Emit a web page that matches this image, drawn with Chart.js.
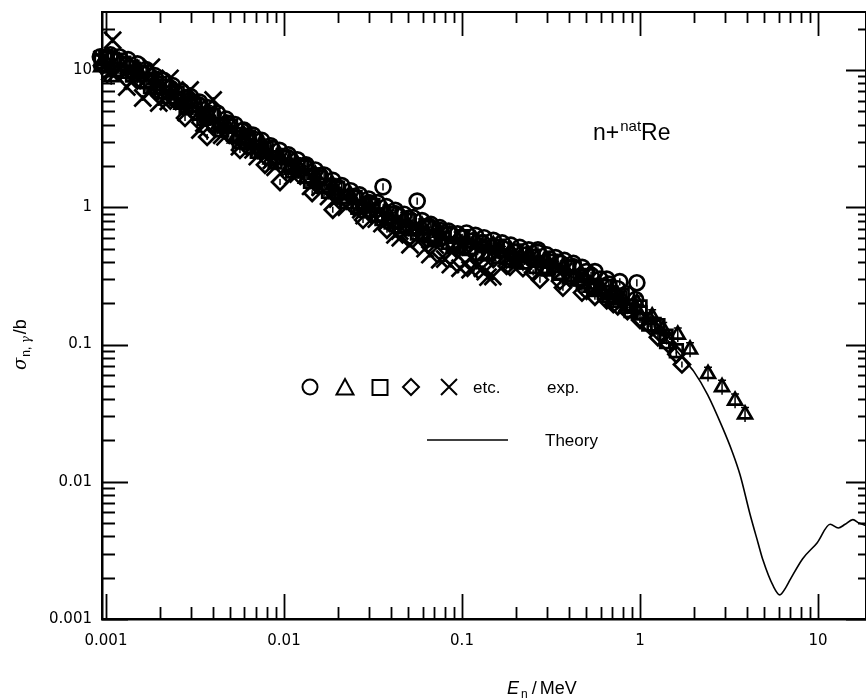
<!DOCTYPE html>
<html>
<head>
<meta charset="utf-8">
<script src="https://cdn.jsdelivr.net/npm/chart.js@4.4.0/dist/chart.umd.min.js"></script>
<style>
  html, body { margin: 0; padding: 0; background: #fff; }
</style>
</head>
<body>
<canvas id="chart" width="866" height="698"></canvas>
<script>
// -----------------------------
// Data (E in MeV, sigma in b)
// -----------------------------
const circleE = [0.00093, 0.00098, 0.0011, 0.0013, 0.0016, 0.0019, 0.0023, 0.0028, 0.0033, 0.004, 0.0048, 0.0058, 0.007, 0.0085, 0.0105, 0.013, 0.016, 0.02, 0.025, 0.03, 0.036, 0.042, 0.05, 0.056, 0.065, 0.075, 0.085, 0.1, 0.115, 0.13, 0.15, 0.17, 0.2, 0.23, 0.267, 0.31, 0.36, 0.42, 0.5, 0.558, 0.65, 0.77, 0.96,
    0.00106, 0.00119, 0.00133, 0.0015, 0.00168, 0.00188, 0.00211, 0.00237, 0.00266, 0.00299, 0.00335, 0.00376, 0.00422, 0.00473, 0.00531, 0.00596, 0.00668, 0.0075, 0.00841, 0.00944,
    0.0106, 0.0119, 0.0133, 0.015, 0.0168, 0.0188, 0.0211, 0.0237, 0.0266, 0.0299, 0.0335, 0.0376, 0.0422, 0.0473, 0.0531, 0.0596, 0.0668, 0.075, 0.0841, 0.0944,
    0.106, 0.119, 0.133, 0.15, 0.168, 0.188, 0.211, 0.237, 0.266, 0.299, 0.335, 0.376, 0.422, 0.473, 0.531, 0.596, 0.668, 0.75, 0.841, 0.944];
const circleS = [12.5, 11.0, 12.0, 10.8, 9.4, 8.6, 7.4, 6.3, 5.6, 4.7, 4.1, 3.6, 3.1, 2.7, 2.3, 2.0, 1.7, 1.4, 1.2, 1.08, 1.41, 0.9, 0.83, 1.11, 0.73, 0.68, 0.64, 0.6, 0.57, 0.55, 0.52, 0.5, 0.47, 0.45, 0.49, 0.42, 0.39, 0.37, 0.34, 0.34, 0.3, 0.287, 0.282,
    12.9, 12.5, 11.9, 11.1, 10.1, 9.1, 8.4, 7.7, 7.0, 6.4, 5.85, 5.3, 4.86, 4.39, 4.0, 3.65, 3.36, 3.07, 2.81, 2.6,
    2.41, 2.22, 2.04, 1.87, 1.72, 1.57, 1.44, 1.32, 1.23, 1.15, 1.08, 1.01, 0.95, 0.89, 0.84, 0.8, 0.75, 0.71, 0.67, 0.64,
    0.65, 0.625, 0.6, 0.575, 0.55, 0.53, 0.51, 0.49, 0.47, 0.45, 0.43, 0.41, 0.39, 0.365, 0.32, 0.3, 0.276, 0.255, 0.234, 0.213];

const triangleE = [0.00094, 0.00107, 0.0015, 0.002, 0.0027, 0.0035, 0.0045, 0.006, 0.008, 0.011, 0.015, 0.02, 0.028, 0.04, 0.055, 0.075, 0.1, 0.14, 0.2, 0.3, 0.45, 0.6, 0.7, 0.802, 0.962, 1.14, 1.17, 1.35, 1.63, 1.91, 2.41, 2.89, 3.42, 3.89,
    0.00106, 0.00119, 0.00133, 0.0015, 0.00168, 0.00188, 0.00211, 0.00237, 0.00266, 0.00299, 0.00335, 0.00376, 0.00422, 0.00473, 0.00531, 0.00596, 0.00668, 0.0075, 0.00841, 0.00944,
    0.0106, 0.0119, 0.0133, 0.015, 0.0168, 0.0188, 0.0211, 0.0237, 0.0266, 0.0299, 0.0335, 0.0376, 0.0422, 0.0473, 0.0531, 0.0596, 0.0668, 0.075, 0.0841, 0.0944,
    0.106, 0.119, 0.133, 0.15, 0.168, 0.188, 0.211, 0.237, 0.266, 0.299, 0.335, 0.376, 0.422, 0.473, 0.531, 0.596, 0.668, 0.75, 0.841, 0.944];
const triangleS = [10.5, 8.9, 9.6, 7.2, 5.8, 4.7, 3.9, 3.1, 2.5, 2.0, 1.55, 1.25, 1.02, 0.82, 0.69, 0.58, 0.5, 0.44, 0.4, 0.35, 0.29, 0.25, 0.235, 0.212, 0.202, 0.152, 0.16, 0.129, 0.118, 0.092, 0.061, 0.049, 0.039, 0.031,
    10.3, 11.5, 9.4, 10.2, 8.0, 8.4, 6.65, 7.1, 5.6, 5.9, 4.65, 4.9, 3.86, 4.05, 3.18, 3.37, 2.67, 2.83, 2.23, 2.4,
    1.92, 2.05, 1.62, 1.73, 1.37, 1.45, 1.14, 1.22, 0.98, 1.06, 0.855, 0.93, 0.753, 0.82, 0.67, 0.734, 0.595, 0.653, 0.535, 0.59,
    0.546, 0.575, 0.504, 0.53, 0.462, 0.485, 0.428, 0.45, 0.395, 0.414, 0.361, 0.365, 0.309, 0.32, 0.26, 0.27, 0.22, 0.229, 0.19, 0.187];

const squareE = [0.00094, 0.001, 0.0012, 0.0014, 0.0017, 0.0021, 0.0025, 0.003, 0.0037, 0.0044, 0.0052, 0.0062, 0.0075, 0.009, 0.011, 0.0135, 0.017, 0.021, 0.026, 0.033, 0.04, 0.048, 0.06, 0.07, 0.09, 0.11, 0.13, 0.16, 0.19, 0.22, 0.26, 0.3, 0.35, 0.4, 0.48, 0.55, 0.63, 0.72, 0.85, 1.0, 1.2, 1.4, 1.6,
    0.001, 0.00112, 0.00126, 0.00141, 0.00158, 0.00178, 0.002, 0.00224, 0.00251, 0.00282, 0.00316, 0.00355, 0.00398, 0.00447, 0.00501, 0.00562, 0.00631, 0.00708, 0.00794, 0.00891,
    0.01, 0.0112, 0.0126, 0.0141, 0.0158, 0.0178, 0.02, 0.0224, 0.0251, 0.0282, 0.0316, 0.0355, 0.0398, 0.0447, 0.0501, 0.0562, 0.0631, 0.0708, 0.0794, 0.0891,
    0.1, 0.112, 0.126, 0.141, 0.158, 0.178, 0.2, 0.224, 0.251, 0.282, 0.316, 0.355, 0.398, 0.447, 0.501, 0.562, 0.631, 0.708, 0.794, 0.891, 1.0, 1.12, 1.26, 1.41];
const squareS = [11.5, 12.5, 11.8, 10.5, 8.2, 7.6, 6.2, 5.5, 4.5, 4.0, 3.4, 3.0, 2.6, 2.3, 1.95, 1.7, 1.45, 1.2, 1.0, 0.88, 0.78, 0.72, 0.64, 0.6, 0.54, 0.5, 0.46, 0.44, 0.41, 0.4, 0.37, 0.355, 0.33, 0.31, 0.285, 0.26, 0.24, 0.22, 0.19, 0.17, 0.14, 0.115, 0.09,
    12.1, 10.1, 11.2, 9.2, 9.7, 7.6, 8.0, 6.4, 6.8, 5.35, 5.6, 4.45, 4.7, 3.67, 3.9, 3.0, 3.25, 2.56, 2.7, 2.14,
    2.31, 1.84, 1.97, 1.55, 1.65, 1.31, 1.38, 1.1, 1.18, 0.95, 1.03, 0.83, 0.9, 0.73, 0.8, 0.65, 0.71, 0.58, 0.64, 0.52,
    0.61, 0.51, 0.56, 0.47, 0.52, 0.43, 0.48, 0.4, 0.44, 0.37, 0.405, 0.335, 0.366, 0.3, 0.317, 0.252, 0.265, 0.21, 0.227, 0.177, 0.188, 0.141, 0.137, 0.105];

const diamondE = [0.00095, 0.0012, 0.0015, 0.0019, 0.0023, 0.00278, 0.0037, 0.004, 0.00566, 0.006, 0.00782, 0.0095, 0.012, 0.0144, 0.0188, 0.02, 0.0278, 0.03, 0.0379, 0.05, 0.07, 0.0938, 0.12, 0.15, 0.186, 0.22, 0.274, 0.369, 0.472, 0.558, 0.65, 0.75, 0.85, 1.0, 1.15, 1.3, 1.45, 1.6, 1.72,
    0.178, 0.251, 0.355, 0.501, 0.708, 1.0, 1.26];
const diamondS = [10.8, 9.8, 8.4, 7.0, 6.0, 4.48, 3.26, 4.0, 2.62, 3.0, 2.04, 1.53, 1.9, 1.27, 0.96, 1.2, 0.81, 0.95, 0.686, 0.72, 0.6, 0.491, 0.46, 0.42, 0.369, 0.36, 0.297, 0.26, 0.239, 0.223, 0.21, 0.19, 0.175, 0.155, 0.135, 0.12, 0.1, 0.085, 0.0716,
    0.374, 0.335, 0.29, 0.246, 0.197, 0.151, 0.113];

const crossE = [0.00095, 0.00105, 0.00109, 0.00131, 0.0018, 0.00161, 0.00198, 0.00229, 0.00297, 0.00337, 0.004, 0.00466, 0.0067, 0.0085, 0.012, 0.016, 0.02, 0.027, 0.033, 0.042, 0.045, 0.051, 0.058, 0.062, 0.066, 0.075, 0.08, 0.086, 0.0975, 0.105, 0.111, 0.121, 0.13, 0.135, 0.14, 0.149,
    0.00112, 0.00141, 0.00178, 0.00224, 0.00282, 0.00355, 0.00447, 0.00562, 0.00708, 0.00891, 0.0112, 0.0141, 0.0178, 0.0224, 0.0282, 0.0355, 0.0447, 0.0562, 0.0708, 0.0891, 0.112];
const crossS = [12.0, 9.7, 16.5, 7.52, 10.5, 6.26, 5.75, 8.7, 7.16, 3.66, 6.05, 3.26, 2.62, 2.2, 1.75, 1.4, 1.15, 0.96, 0.82, 0.63, 0.6, 0.533, 0.58, 0.5, 0.452, 0.415, 0.42, 0.382, 0.36, 0.39, 0.351, 0.37, 0.36, 0.34, 0.31, 0.313,
    9.3, 8.4, 7.0, 5.9, 4.9, 4.1, 3.35, 2.76, 2.34, 1.96, 1.68, 1.42, 1.2, 1.0, 0.87, 0.76, 0.67, 0.6, 0.53, 0.48, 0.43];

// relative error bars per series
const circleErr = 0.06, triangleErr = 0.12, squareErr = 0.05, diamondErr = 0.05, crossErr = 0.05;

const theoryE = [0.00092, 0.0012, 0.0015, 0.002, 0.0027, 0.0035, 0.0045, 0.006, 0.008, 0.01, 0.014, 0.02, 0.027, 0.035, 0.045, 0.06, 0.075, 0.1, 0.13, 0.17, 0.22, 0.28, 0.36, 0.46, 0.57, 0.7, 0.85, 1.0, 1.15, 1.3, 1.5, 1.86, 2.0, 2.4, 2.9, 3.3, 3.65, 4.15, 4.6, 4.9, 5.6, 6.1, 6.6, 7.0, 8.2, 9.9, 11.7, 13.0, 14.2, 15.7, 17.0, 18.6];
const theoryS = [11.5, 10.6, 9.3, 7.4, 5.9, 4.85, 3.95, 3.15, 2.5, 2.14, 1.68, 1.28, 1.04, 0.89, 0.785, 0.67, 0.6, 0.533, 0.48, 0.435, 0.4, 0.37, 0.33, 0.297, 0.265, 0.227, 0.198, 0.174, 0.148, 0.124, 0.1, 0.0716, 0.064, 0.043, 0.025, 0.0165, 0.0112, 0.0058, 0.0036, 0.0027, 0.00174, 0.0015, 0.0017, 0.00195, 0.00275, 0.0036, 0.0049, 0.0046, 0.0049, 0.0053, 0.005, 0.0048];

const xTicks = [0.001, 0.01, 0.1, 1, 10];
const xTickLabels = ['0.001', '0.01', '0.1', '1', '10'];
const yTicks = [0.001, 0.01, 0.1, 1, 10];
const yTickLabels = ['0.001', '0.01', '0.1', '1', '10'];

// -----------------------------
// Helpers
// -----------------------------
function pts(xs, ys) {
    return xs.map((x, i) => ({ x: x, y: ys[i] }));
}

function markerSet(label, xs, ys, style, radius, err) {
    return {
        type: 'scatter',
        label: label,
        data: pts(xs, ys),
        pointStyle: style,
        pointRadius: radius,
        pointHoverRadius: radius,
        pointBorderWidth: 2.7,
        borderColor: '#000',
        backgroundColor: 'rgba(0,0,0,0)',
        clip: false,
        errFrac: err
    };
}

// -----------------------------
// Plugin: frame, inward ticks, error bars, texts
// -----------------------------
const decor = {
    id: 'decor',
    afterDatasetsDraw(chart) {
        const { ctx, scales: { y } } = chart;
        ctx.save();
        ctx.strokeStyle = '#000';
        ctx.lineWidth = 1.5;
        chart.data.datasets.forEach((ds, i) => {
            if (!ds.errFrac) return;
            const meta = chart.getDatasetMeta(i);
            meta.data.forEach((pt, j) => {
                const v = ds.data[j].y;
                const top = y.getPixelForValue(v * (1 + ds.errFrac));
                const bot = y.getPixelForValue(v * (1 - ds.errFrac));
                ctx.beginPath();
                ctx.moveTo(pt.x, top);
                ctx.lineTo(pt.x, bot);
                if (ds.pointStyle === 'triangle') {
                    ctx.moveTo(pt.x - 4, top);
                    ctx.lineTo(pt.x + 4, top);
                }
                ctx.stroke();
            });
        });
        ctx.restore();
    },
    afterDraw(chart) {
        const { ctx, chartArea: a, scales: { x, y } } = chart;
        ctx.save();
        ctx.strokeStyle = '#000';
        ctx.fillStyle = '#000';

        // top and right frame
        ctx.lineWidth = 2;
        ctx.beginPath();
        ctx.moveTo(a.left, a.top);
        ctx.lineTo(a.right, a.top);
        ctx.lineTo(a.right, a.bottom);
        ctx.stroke();

        // inward ticks
        ctx.lineWidth = 1.8;
        for (let e = -4; e <= 2; e++) {
            for (let k = 1; k <= 9; k++) {
                const v = k * Math.pow(10, e);
                const major = k === 1;
                if (v >= x.min && v <= x.max) {
                    const px = Math.round(x.getPixelForValue(v)) + 0.5;
                    ctx.beginPath();
                    ctx.moveTo(px, a.bottom);
                    ctx.lineTo(px, a.bottom - (major ? 25 : 12));
                    ctx.moveTo(px, a.top);
                    ctx.lineTo(px, a.top + (major ? 24 : 11));
                    ctx.stroke();
                }
                if (v >= y.min && v <= y.max) {
                    const py = Math.round(y.getPixelForValue(v)) + 0.5;
                    ctx.beginPath();
                    ctx.moveTo(a.left, py);
                    ctx.lineTo(a.left + (major ? 26 : 13), py);
                    ctx.moveTo(a.right, py);
                    ctx.lineTo(a.right - (major ? 20 : 8), py);
                    ctx.stroke();
                }
            }
        }

        // reaction label  n+natRe
        ctx.textBaseline = 'alphabetic';
        ctx.textAlign = 'left';
        let cx = 593;
        ctx.font = '23px "Liberation Sans", Arial, sans-serif';
        ctx.fillText('n+', cx, 140);
        cx += ctx.measureText('n+').width + 1;
        ctx.font = '15px "Liberation Sans", Arial, sans-serif';
        ctx.fillText('nat', cx, 131);
        cx += ctx.measureText('nat').width;
        ctx.font = '23px "Liberation Sans", Arial, sans-serif';
        ctx.fillText('Re', cx, 140);

        // legend symbols
        ctx.lineWidth = 2;
        const ly = 387;
        ctx.beginPath();
        ctx.arc(310, ly, 7.5, 0, Math.PI * 2);
        ctx.stroke();
        ctx.beginPath();
        ctx.moveTo(345, ly - 8);
        ctx.lineTo(353.5, ly + 7.5);
        ctx.lineTo(336.5, ly + 7.5);
        ctx.closePath();
        ctx.stroke();
        ctx.strokeRect(372.5, ly - 7, 15, 15);
        ctx.beginPath();
        ctx.moveTo(411, ly - 8);
        ctx.lineTo(419, ly);
        ctx.lineTo(411, ly + 8);
        ctx.lineTo(403, ly);
        ctx.closePath();
        ctx.stroke();
        ctx.beginPath();
        ctx.moveTo(441, ly - 8);
        ctx.lineTo(457, ly + 8);
        ctx.moveTo(457, ly - 8);
        ctx.lineTo(441, ly + 8);
        ctx.stroke();

        ctx.font = '17px "Liberation Sans", Arial, sans-serif';
        ctx.fillText('etc.', 473, 393);
        ctx.fillText('exp.', 547, 393);
        ctx.lineWidth = 1.5;
        ctx.beginPath();
        ctx.moveTo(427, 440);
        ctx.lineTo(508, 440);
        ctx.stroke();
        ctx.fillText('Theory', 545, 446);

        // x axis title  E_n/MeV
        cx = 507;
        ctx.font = 'italic 18px "Liberation Sans", Arial, sans-serif';
        ctx.fillText('E', cx, 694);
        cx += ctx.measureText('E').width + 2;
        ctx.font = '12px "Liberation Sans", Arial, sans-serif';
        ctx.fillText('n', cx, 698);
        cx += ctx.measureText('n').width + 4;
        ctx.font = '18px "Liberation Sans", Arial, sans-serif';
        ctx.fillText('/', cx, 694);
        cx += ctx.measureText('/').width + 3;
        ctx.fillText('MeV', cx, 694);

        // y axis title  sigma_n,gamma/b (rotated)
        ctx.translate(26, 370);
        ctx.rotate(-Math.PI / 2);
        cx = 0;
        ctx.font = 'italic 18px "DejaVu Serif", serif';
        ctx.fillText('σ', cx, 0);
        cx += ctx.measureText('σ').width + 1;
        ctx.font = '12px "Liberation Sans", Arial, sans-serif';
        ctx.fillText('n, ', cx, 4);
        cx += ctx.measureText('n, ').width;
        ctx.font = 'italic 12px "DejaVu Serif", serif';
        ctx.fillText('γ', cx, 4);
        cx += ctx.measureText('γ').width + 2;
        ctx.font = '18px "Liberation Sans", Arial, sans-serif';
        ctx.fillText('/b', cx, 0);

        ctx.restore();
    }
};

// -----------------------------
// Chart.js
// -----------------------------
const tickFont = { family: '"DejaVu Sans", sans-serif', size: 15 };

new Chart(document.getElementById('chart').getContext('2d'), {
    type: 'scatter',
    data: {
        datasets: [
            {
                type: 'line',
                label: 'Theory',
                data: pts(theoryE, theoryS),
                borderColor: '#000',
                borderWidth: 1.6,
                pointRadius: 0,
                fill: false,
                cubicInterpolationMode: 'monotone'
            },
            markerSet('circle', circleE, circleS, 'circle', 7.5, circleErr),
            markerSet('triangle', triangleE, triangleS, 'triangle', 8, triangleErr),
            markerSet('square', squareE, squareS, 'rect', 9, squareErr),
            markerSet('diamond', diamondE, diamondS, 'rectRot', 8, diamondErr),
            markerSet('cross', crossE, crossS, 'crossRot', 12, crossErr)
        ]
    },
    options: {
        responsive: false,
        animation: false,
        devicePixelRatio: 1,
        layout: { autoPadding: false, padding: { top: 12, left: 0, right: 0, bottom: 0 } },
        plugins: { legend: { display: false }, tooltip: { enabled: false } },
        scales: {
            x: {
                type: 'logarithmic',
                position: 'bottom',
                min: 0.00095,
                max: 18.6,
                grid: { display: false, drawTicks: false },
                border: { display: true, color: '#000', width: 2.5 },
                afterBuildTicks: s => { s.ticks = xTicks.map(v => ({ value: v })); },
                afterFit: s => { s.height = 79; s.paddingLeft = 0; s.paddingRight = 0; },
                ticks: {
                    color: '#000',
                    font: tickFont,
                    padding: 13,
                    autoSkip: false,
                    maxRotation: 0,
                    callback: (v, i) => xTickLabels[i]
                }
            },
            y: {
                type: 'logarithmic',
                position: 'left',
                min: 0.001,
                max: 26.5,
                grid: { display: false, drawTicks: false },
                border: { display: true, color: '#000', width: 2.5 },
                afterBuildTicks: s => { s.ticks = yTicks.map(v => ({ value: v })); },
                afterFit: s => { s.width = 102; s.paddingTop = 0; s.paddingBottom = 0; },
                ticks: {
                    color: '#000',
                    font: tickFont,
                    padding: 10,
                    autoSkip: false,
                    callback: (v, i) => yTickLabels[i]
                }
            }
        }
    },
    plugins: [decor]
});
</script>
</body>
</html>
